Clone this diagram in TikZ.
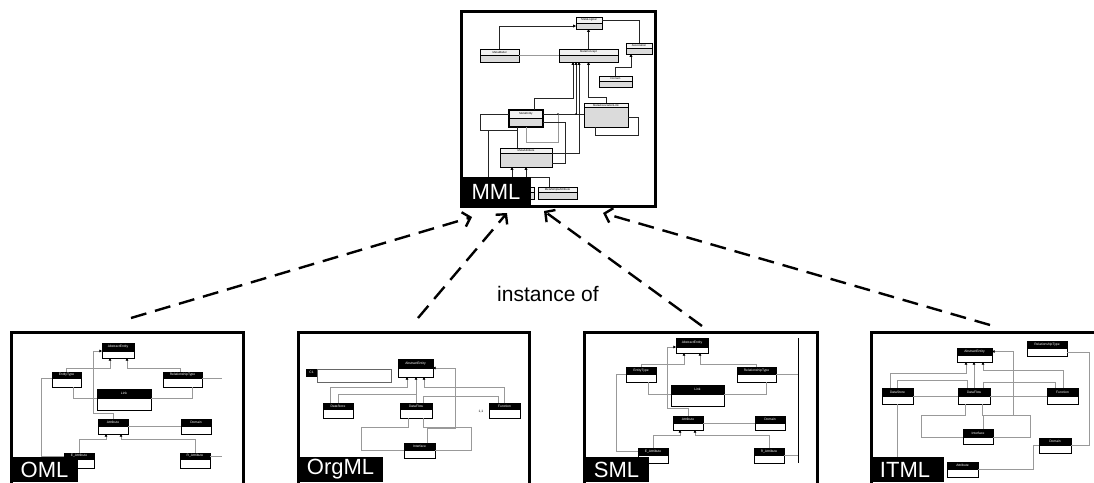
\documentclass[tikz,border=0pt]{standalone}
\usepackage{fontspec}
\setmainfont{Liberation Sans}
\usetikzlibrary{arrows.meta}

\newcommand{\umlcls}[8]{%
  \pgfmathsetmacro{\clw}{#5-#3}%
  \pgfmathsetmacro{\clh}{#6-#4}%
  \pgfmathsetmacro{\clb}{#7-#6}%
  \node[#1head, minimum width=\clw pt, minimum height=\clh pt, anchor=north west] (#2) at (#3,#4) {#8};
  \node[#1body, minimum width=\clw pt, minimum height=\clb pt, anchor=north west] (#2b) at (#2.south west) {};
}

\begin{document}
\begin{tikzpicture}[x=1pt, y=-1pt,
  bhead/.style={draw, fill=black, text=white, line width=0.5pt, inner sep=0pt, outer sep=0pt, font=\fontsize{3.3}{3.3}\selectfont},
  bbody/.style={draw, fill=white, line width=0.5pt, inner sep=0pt, outer sep=0pt},
  mhead/.style={draw, fill=gray!10, line width=0.8pt, inner sep=0pt, outer sep=0pt, font=\fontsize{2.8}{3}\selectfont},
  mbody/.style={draw, fill=gray!28, line width=0.8pt, inner sep=0pt, outer sep=0pt},
  gline/.style={draw=black!40, line width=0.6pt},
  garr/.style={gline, -{Triangle[length=2.6pt,width=2.6pt,black]}},
  mline/.style={draw=black!85, line width=0.8pt},
  marr/.style={mline, -{Triangle[length=2.8pt,width=2.8pt,black]}},
  mlbox/.style={draw, line width=3pt, inner sep=0pt, outer sep=0pt},
  mltag/.style={fill=black, text=white, font=\fontsize{22}{22}\selectfont, inner xsep=0pt, inner ysep=0pt, minimum height=30pt, outer sep=0pt},
  inst/.style={line width=2.4pt, dash pattern=on 16pt off 9pt, -{Straight Barb[length=7pt,width=15pt]}}
]
\useasboundingbox (0,0) rectangle (1094,482);
\clip (0,0) rectangle (1094,482);
\fill[white] (0,0) rectangle (1094,482);

% MML
\umlcls{m}{ml}{576}{17}{602}{23}{29}{MetaLogical}
\umlcls{m}{mm}{480}{49}{519}{55}{62}{MetaModel}
\umlcls{m}{mc}{559}{49}{618}{55}{62}{MetaConcept}
\umlcls{m}{as}{626}{43}{652}{48}{54}{Association}
\umlcls{m}{dm}{599}{76}{632}{81}{87}{Domain}
\umlcls{m}{me}{509}{110}{543}{118}{127}{MetaEntity}
\umlcls{m}{mal}{584}{103}{628}{107}{127}{MetaAssociationLink}
\umlcls{m}{ma}{500}{148}{552}{153}{167}{MetaAttribute}
\umlcls{m}{mx}{523}{187}{534}{192}{199}{}
\umlcls{m}{msa}{538}{187}{577}{192}{199}{MetaSimpleAttribute}
\draw[line width=1.3pt] (me.north west) rectangle (meb.south east);
\coordinate (j1) at ([xshift=33]me.east);
\coordinate (j2) at ([xshift=15]me.east);
\draw[marr] (mm.north) |- (mlb.west);
\draw[marr] (mc.north) -- (mc.north |- mlb.south);
\draw[mline] (ml.east) -| (as.north);
\draw[gline] (mm.south east) -- (mc.south west);
\draw[marr] (dm.north) -- ++(0,-9) -| ([xshift=-8]asb.south);
\draw[marr] ([xshift=8]me.north) -- ++(0,-12) -| ([xshift=-15.5]mcb.south);
\draw[mline] (me.east) -- (me.east -| mal.west);
\draw[marr] (j1) -- (j1 |- mcb.south);
\draw[marr] (ma.south east) -| ([xshift=-9.5]mcb.south);
\draw[marr] (mal.north) -- ++(0,-6) -| (mcb.south);
\draw[mline] (me.west) -- ++(-29,0) -- ++(0,16) -| ([xshift=-9]meb.south);
\draw[mline] ([xshift=-21,yshift=-16]me.west) -- ++(0,50);
\draw[mline] ([xshift=-9]meb.south) -- ([xshift=-9]meb.south |- ma.north);
\draw[gline] (meb.south) -- ++(0,15) -| (j2);
\draw[mline] ([yshift=-10]ma.south east) -- ++(13,0) |- (meb.east);
\draw[mline] ([xshift=-11]malb.south) -- ++(0,8) -| ([xshift=10]malb.east) -- (malb.east);
\draw[marr] ([xshift=-14,yshift=-18]mab.south) -- ([xshift=-14]mab.south);
\draw[marr] ([yshift=-18]mab.south) -- (mab.south);
\draw[mline] ([xshift=-8]msa.north) -- ++(0,-10) -| ([yshift=-8]mab.south);
\fill (j1) circle (0.9pt) (j2) circle (0.9pt);

% OML
\umlcls{b}{oae}{102}{343}{134}{351}{358}{AbstractEntity}
\umlcls{b}{oet}{52}{372}{81}{378}{387}{EntityType}
\umlcls{b}{ort}{163}{372}{202}{378}{387}{RelationshipType}
\umlcls{b}{olk}{97}{389}{151}{398}{410}{Link}
\umlcls{b}{oat}{98}{419}{128}{426}{434}{Attribute}
\umlcls{b}{odm}{181}{419}{211}{426}{434}{Domain}
\umlcls{b}{oea}{64}{453}{94}{459}{468}{E\_Attribute}
\umlcls{b}{ora}{180}{453}{210}{459}{468}{R\_Attribute}
\draw[garr] (oet.north) -- ++(0,-4) -| ([xshift=-8]oaeb.south);
\draw[garr] ([xshift=-2.5]ort.north) -- ++(0,-4) -| ([xshift=9]oaeb.south);
\draw[garr] (oat.north) -- ++(0,-6) -| ([xshift=-9]oae.south west) -- (oae.south west);
\draw[gline] ([xshift=6.5]oetb.south) |- (olk.south west);
\draw[gline] ([xshift=9.5]ortb.south) |- (olk.south east);
\draw[gline] (oat.south east) -- (odm.south west);
\draw[garr] (oea.north) -- ++(0,-14) -| ([xshift=-7]oatb.south);
\draw[garr] (ora.north) -- ++(0,-14) -| ([xshift=8]oatb.south);
\draw[gline] (oet.south west) -- ++(-11,0) |- (oea.west);
\draw[gline] (ort.south east) -- ++(20,0);
\draw[gline] (ora.east) -- ++(12,0);

% OrgML
\umlcls{b}{rae}{398}{359}{433}{368}{377}{AbstractEntity}
\node[bhead, minimum width=11pt, minimum height=7pt, anchor=north west] (rc) at (306,369) {C1};
\node[bbody, draw=black!60, minimum width=74pt, minimum height=13pt, anchor=north west] (rcb) at (rc.north east) {};
\umlcls{b}{rds}{323}{403}{353}{409}{418}{DataStore}
\umlcls{b}{rdf}{400}{403}{432}{409}{418}{DataFlow}
\umlcls{b}{rfn}{489}{403}{520}{409}{418}{Function}
\umlcls{b}{rif}{404}{443}{435}{450}{458}{Interface}
\node[font=\fontsize{3.3}{3.3}\selectfont, inner sep=0pt] (r11) at (481,412) {1,1};
\draw[garr] ([xshift=-8]rds.north) -- ++(0,-16) -| ([xshift=-8.5]raeb.south);
\draw[gline] (rds.north) -- ++(0,-9) -| (rdf.north);
\draw[garr] (rdf.north) -- (rdf.north |- raeb.south);
\draw[garr] (rfn.north) -- ++(0,-16) -| ([xshift=8.5]raeb.south);
\draw[gline] ([xshift=7]rdf.north) -- ++(0,-7) -| ([xshift=-6.5]rfn.north);
\draw[garr] ([xshift=8]rif.north) -- ++(0,-15) -| ([xshift=22]rae.south east) -- (rae.south east);
\draw[gline] ([xshift=-8]rdfb.south) -- ++(0,9) -| ([xshift=-43]rif.south west) -- (rif.south west);
\draw[gline] ([xshift=7]rdfb.south) -- ++(0,9) -| ([xshift=36]rif.south east) -- (rif.south east);

% SML
\umlcls{b}{sae}{676}{338}{708}{347}{353}{AbstractEntity}
\umlcls{b}{set}{626}{367}{656}{374}{382}{EntityType}
\umlcls{b}{srt}{737}{367}{776}{374}{382}{RelationshipType}
\umlcls{b}{slk}{671}{385}{724}{394}{406}{Link}
\umlcls{b}{sat}{673}{416}{703}{423}{430}{Attribute}
\umlcls{b}{sdm}{755}{416}{785}{423}{430}{Domain}
\umlcls{b}{sea}{638}{448}{668}{455}{463}{E\_Attribute}
\umlcls{b}{sra}{754}{448}{784}{455}{463}{R\_Attribute}
\coordinate (svt) at (798,338);
\coordinate (svb) at (798,463);
\draw[line width=1pt] (svt) -- (svb);
\draw[garr] (set.north) -- ++(0,-3) -| ([xshift=-8]saeb.south);
\draw[garr] (srt.north) -- ++(0,-3) -| ([xshift=8]saeb.south);
\draw[garr] (sat.north) -- ++(0,-8) -| ([xshift=-9]sae.south west) -- (sae.south west);
\draw[gline] ([xshift=7]setb.south) |- (slk.south west);
\draw[gline] ([xshift=9.5]srtb.south) |- (slk.south east);
\draw[gline] (sat.south east) -- (sdm.south west);
\draw[garr] (sea.north) -- ++(0,-13) -| ([xshift=-8]satb.south);
\draw[garr] (sra.north) -- ++(0,-13) -| ([xshift=7]satb.south);
\draw[gline] (set.south west) -- ++(-10,0) |- (sea.west);
\draw[gline] (srt.south east) -- (srt.south east -| svt);
\draw[gline] (sra.south east) -- (sra.south east -| svt);

% ITML
\umlcls{b}{iae}{957}{348}{992}{355}{362}{AbstractEntity}
\umlcls{b}{irt}{1027}{341}{1067}{348}{356}{RelationshipType}
\umlcls{b}{ids}{882}{388}{913}{396}{404}{DataStore}
\umlcls{b}{idf}{958}{388}{990}{396}{404}{DataFlow}
\umlcls{b}{ifn}{1047}{388}{1078}{396}{404}{Function}
\umlcls{b}{iif}{963}{429}{993}{437}{444}{Interface}
\umlcls{b}{idm}{1039}{438}{1071}{445}{453}{Domain}
\umlcls{b}{iat}{947}{462}{978}{469}{477}{Attribute}
\draw[garr] ([xshift=-7.5]ids.north) -- ++(0,-15) -| ([xshift=-8.5]iaeb.south);
\draw[gline] (ids.north) -- ++(0,-8) -| ([xshift=-7]idf.north);
\draw[garr] (idf.north) -- (idf.north |- iaeb.south);
\draw[garr] ([xshift=0.5]ifn.north) -- ++(0,-18) -| ([xshift=8.5]iaeb.south);
\draw[gline] ([xshift=9]idf.north) -- ++(0,-6) -| ([xshift=-7.5]ifn.north);
\draw[garr] ([xshift=5]iif.north) -- ++(0,-14) -| ([xshift=21]iae.east) -- (iae.east);
\draw[gline] (ids.south east) -- (idf.south west);
\draw[gline] (idf.south east) -- (ifn.south west);
\draw[gline] ([xshift=-9]idfb.south) -- ++(0,11) -| ([xshift=-42]iif.south west) -- (iif.south west);
\draw[gline] ([xshift=8]idfb.south) -- ++(0,11) -| ([xshift=37]iif.south east) -- (iif.south east);
\draw[gline] (idsb.south) -- ++(0,70);
\draw[gline] (irtb.east) -- ++(22,0) |- (idm.south east);
\draw[gline] (idm.south west) -- ++(-6,0) |- (iat.south east);

% frames and tags
\node[mlbox, minimum width=194pt, minimum height=195pt, anchor=north west] (mmlf) at (461.5,11.5) {};
\node[mlbox, minimum width=232pt, minimum height=200pt, anchor=north west] (omlf) at (11.5,332.5) {};
\node[mlbox, minimum width=231pt, minimum height=200pt, anchor=north west] (orgf) at (298.5,332.5) {};
\node[mlbox, minimum width=233pt, minimum height=200pt, anchor=north west] (smlf) at (584.5,332.5) {};
\node[mlbox, minimum width=240pt, minimum height=200pt, anchor=north west] (itmf) at (871.5,332.5) {};
\node[mltag, minimum width=69pt, anchor=south west] (mmltag) at (mmlf.south west) {MML};
\node[mltag, minimum width=66pt, minimum height=25pt, anchor=north west] (omltag) at ([yshift=-124.5]omlf.north west) {OML};
\node[mltag, minimum width=84pt, minimum height=25pt, anchor=north west] (orgtag) at ([yshift=-124.5]orgf.north west) {OrgML};
\node[mltag, minimum width=64pt, minimum height=25pt, anchor=north west] (smltag) at ([yshift=-124.5]smlf.north west) {SML};
\node[mltag, minimum width=72pt, minimum height=25pt, anchor=north west] (itmtag) at ([yshift=-124.5]itmf.north west) {ITML\hspace*{5pt}};

% instance of
\draw[inst] ([shift={(119.5,-14.5)}]omlf.north west) -- ([shift={(10.5,10.5)}]mmlf.south west);
\draw[inst] ([shift={(119.5,-14.5)}]orgf.north west) -- ([shift={(45.5,6.5)}]mmlf.south west);
\draw[inst] ([shift={(117.5,-6.5)}]smlf.north west) -- ([shift={(82.5,4.5)}]mmlf.south west);
\draw[inst] ([shift={(118.5,-7.5)}]itmf.north west) -- ([shift={(141.5,6.5)}]mmlf.south west);
\node[font=\fontsize{21}{21}\selectfont, inner sep=0pt] (instlbl) at (548,294) {instance of};
\end{tikzpicture}
\end{document}
